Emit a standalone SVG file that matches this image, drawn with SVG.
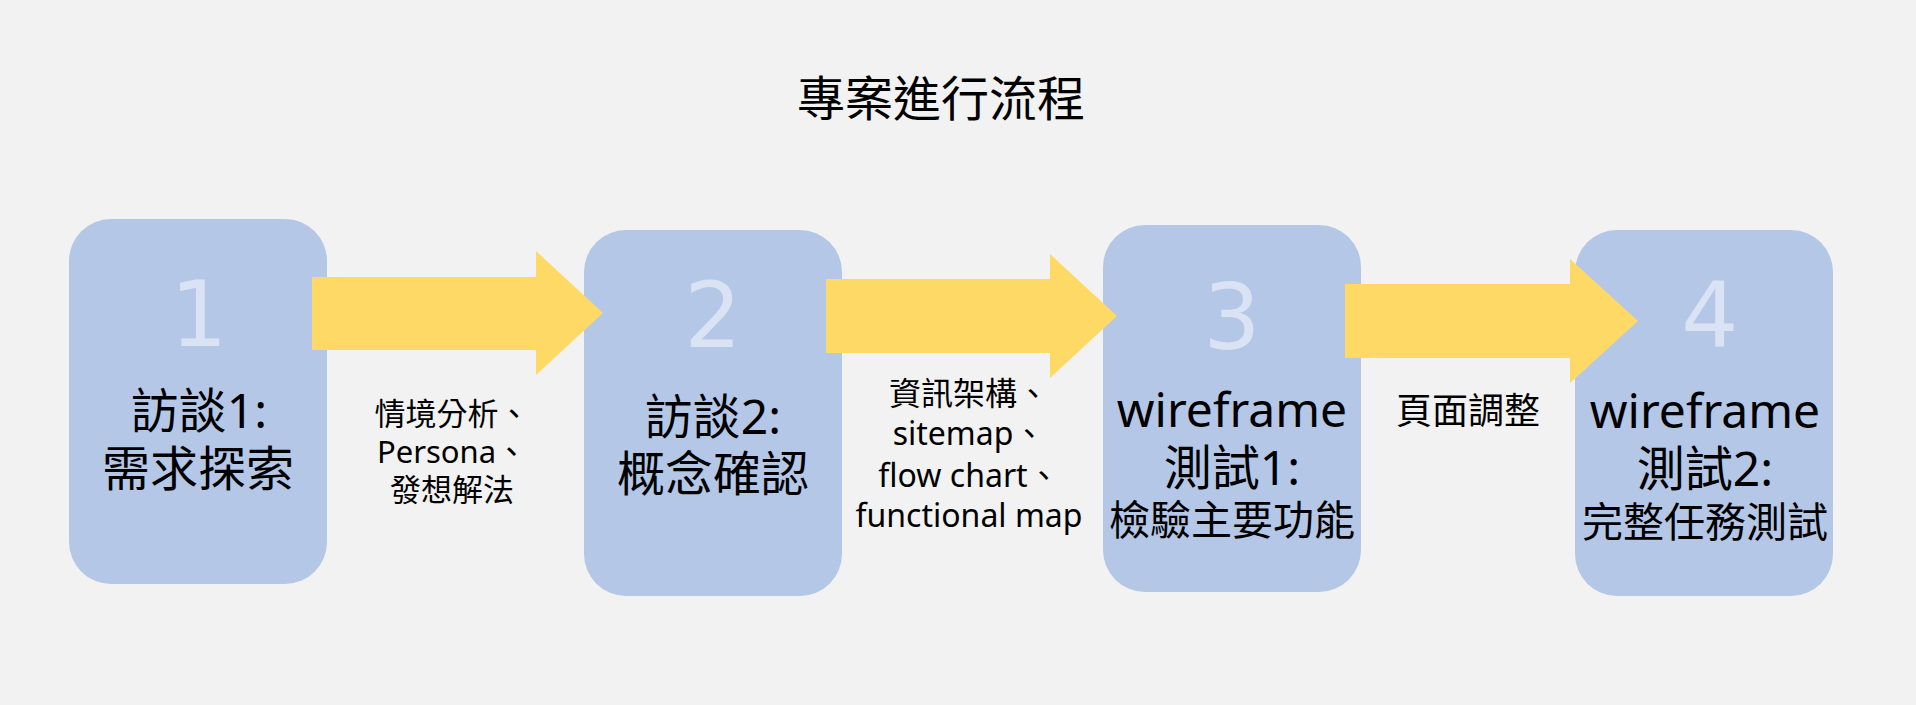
<svg xmlns="http://www.w3.org/2000/svg" width="1916" height="705" viewBox="0 0 1916 705">
<style>
.box{fill:#b4c7e7}
.num{font-family:"DejaVu Sans",sans-serif;font-size:90px;fill:#dae3f3;text-anchor:middle}
.t{font-family:"Noto Sans","Noto Sans CJK TC",sans-serif;fill:#000;text-anchor:middle}
.big{font-size:48px}
.mid{font-size:41px}
.lbl{font-size:31px}
.arrow{fill:#ffd966}
</style>
<rect width="1916" height="705" fill="#f2f2f2"/>
<text id="title" class="t" x="941" y="116" style="font-size:48px">專案進行流程</text>

<g id="node1">
<rect class="box" x="69" y="219" width="258" height="365" rx="42"/>
<text class="num" x="199" y="346">1</text>
<text class="t big" x="199" y="428">訪談1:</text>
<text class="t big" x="198" y="486">需求探索</text>
</g>
<g id="node2">
<rect class="box" x="584" y="230" width="258" height="366" rx="42"/>
<text class="num" x="713" y="347">2</text>
<text class="t big" x="713" y="434">訪談2:</text>
<text class="t big" x="713" y="491">概念確認</text>
</g>
<g id="node3">
<rect class="box" x="1103" y="225" width="258" height="367" rx="42"/>
<text class="num" x="1232" y="349">3</text>
<text class="t big" x="1232" y="427">wireframe</text>
<text class="t big" x="1232" y="485">測試1:</text>
<text class="t mid" x="1232" y="535">檢驗主要功能</text>
</g>
<g id="node4">
<rect class="box" x="1575" y="230" width="258" height="366" rx="42"/>
<text class="num" x="1710" y="347">4</text>
<text class="t big" x="1705" y="428">wireframe</text>
<text class="t big" x="1705" y="486">測試2:</text>
<text class="t mid" x="1705" y="537">完整任務測試</text>
</g>

<g id="connectors">
<polygon class="arrow" points="312,277 536,277 536,251 603,313 536,375 536,350 312,350"/>
<polygon class="arrow" points="826,279 1050,279 1050,254 1117,316 1050,378 1050,353 826,353"/>
<polygon class="arrow" points="1345,284 1570,284 1570,259 1638,321 1570,383 1570,358 1345,358"/>
<g id="label1" class="t lbl">
<text x="452" y="425">情境分析、</text>
<text x="452" y="463">Persona、</text>
<text x="452" y="501">發想解法</text>
</g>
<g id="label2" class="t" style="font-size:32px">
<text x="969" y="405">資訊架構、</text>
<text x="969" y="445">sitemap、</text>
<text x="969" y="487">flow chart、</text>
<text x="969" y="527">functional map</text>
</g>
<text id="label3" class="t" x="1468" y="424" style="font-size:36px">頁面調整</text>
</g>
</svg>
